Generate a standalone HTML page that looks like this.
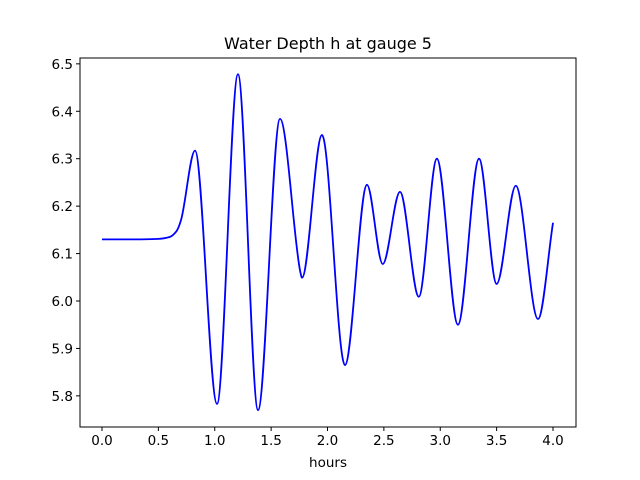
<!DOCTYPE html>
<html><head><meta charset="utf-8"><style>
body{margin:0;background:#fff}
svg{display:block;font-family:"DejaVu Sans","Liberation Sans",sans-serif}
</style></head><body>
<svg id="c" width="640" height="480"></svg>
<script>
const times=[0,0.3,0.5,0.6,0.66,0.7,0.825,1.02,1.206,1.384,1.579,1.76,1.774,1.951,2.155,2.35,2.49,2.643,2.81,2.97,3.157,3.344,3.50,3.67,3.867,4.0];
const depths=[6.130,6.130,6.131,6.135,6.147,6.17,6.317,5.783,6.478,5.770,6.384,6.06,6.049,6.350,5.865,6.245,6.078,6.230,6.009,6.300,5.950,6.300,6.036,6.243,5.962,6.165];
const xTicks=[0,0.5,1.0,1.5,2.0,2.5,3.0,3.5,4.0];
const yTicks=[5.8,5.9,6.0,6.1,6.2,6.3,6.4,6.5];
const NS='http://www.w3.org/2000/svg',svg=document.getElementById('c');
const L=80,R=576,T=58,B=427;
const X=v=>102+(v-0)*112.75, Y=v=>301-(v-6.0)*474.3;
function mk(t,a,p){const e=document.createElementNS(NS,t);for(const k in a)e.setAttribute(k,a[k]);(p||svg).appendChild(e);return e;}
// monotone cubic
const n=times.length,d=[],m=[];
for(let i=0;i<n-1;i++)d.push((depths[i+1]-depths[i])/(times[i+1]-times[i]));
m[0]=d[0];m[n-1]=d[n-2];
for(let i=1;i<n-1;i++){m[i]=(d[i-1]*d[i]<=0)?0:2/(1/d[i-1]+1/d[i]);}
let p='M'+X(times[0])+','+Y(depths[0]);
for(let i=0;i<n-1;i++){const h=times[i+1]-times[i];
p+=' C'+X(times[i]+h/3)+','+Y(depths[i]+m[i]*h/3)+' '+X(times[i+1]-h/3)+','+Y(depths[i+1]-m[i+1]*h/3)+' '+X(times[i+1])+','+Y(depths[i+1]);}
const line=mk('path',{d:p,fill:'none',stroke:'#0000ff','stroke-width':1.8});


const fr=mk('rect',{x:L,y:T,width:R-L,height:B-T,fill:'none',stroke:'#000','stroke-width':1});


xTicks.forEach(v=>{const x=X(v);
 const tk=mk('line',{x1:x,x2:x,y1:B,y2:B+4,stroke:'#000'});
 
 
 const t=mk('text',{x:x,y:B+18,'text-anchor':'middle','font-size':'13.5'});t.textContent=v.toFixed(1);
 
 });
yTicks.forEach(v=>{const y=Y(v);
 const tk=mk('line',{x1:L-4,x2:L,y1:y,y2:y,stroke:'#000'});
 
 
 const t=mk('text',{x:L-7,y:y+5,'text-anchor':'end','font-size':'13.5'});t.textContent=v.toFixed(1);
 
 });
const xt=mk('text',{x:328,y:467,'text-anchor':'middle','font-size':'13.5'});xt.textContent='hours';


const tt=mk('text',{x:328,y:49,'text-anchor':'middle','font-size':'16'});tt.textContent='Water Depth h at gauge 5';


</script>
</body></html>
